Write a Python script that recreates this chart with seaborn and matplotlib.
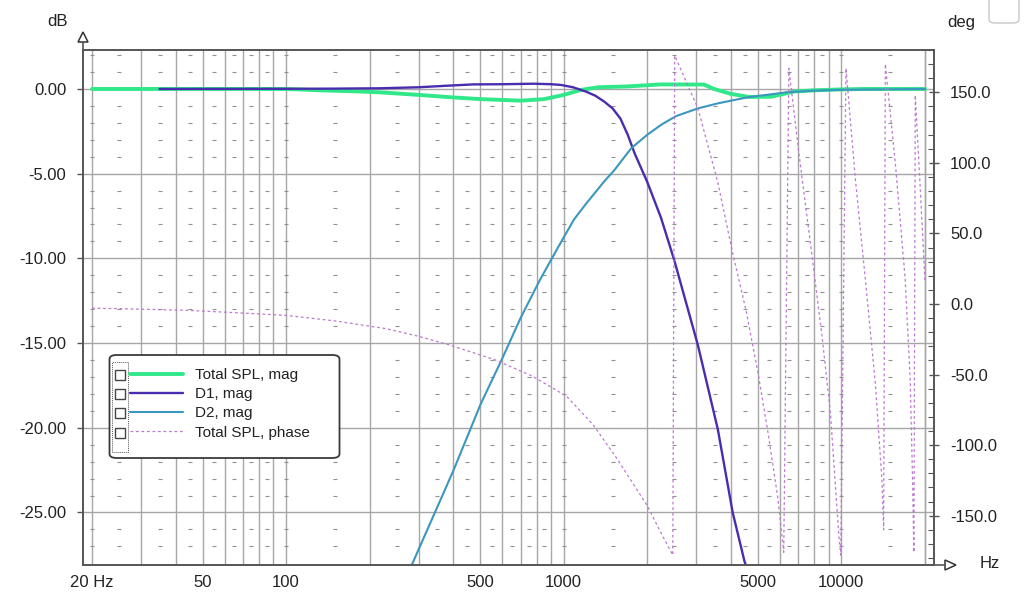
import numpy as np
import seaborn as sns
import matplotlib
matplotlib.use("Agg")
from matplotlib import pyplot as plt
from matplotlib import ticker
from matplotlib.lines import Line2D
from matplotlib.patches import Rectangle, FancyBboxPatch, Polygon

# ---- data ----
spl_f = [20, 100, 133, 185, 218, 300, 400, 502, 700, 850, 1000, 1150, 1330, 1700,
         2240, 3200, 3480, 4000, 4640, 5580, 6770, 8000, 9800, 12000, 20000]
spl_db = [0.0, 0.0, -0.08, -0.15, -0.2, -0.35, -0.5, -0.6, -0.69, -0.6, -0.35, -0.06, 0.1, 0.15,
          0.27, 0.26, 0.0, -0.29, -0.47, -0.46, -0.15, -0.08, -0.03, 0.0, 0.0]

d1_f = [35, 100, 150, 218, 300, 368, 473, 600, 780, 900, 975, 1080, 1200, 1300, 1400, 1500,
        1600, 1700, 1800, 2000, 2240, 2500, 3040, 3590, 4060, 4480, 4650]
d1_db = [0.0, 0.01, 0.02, 0.04, 0.1, 0.18, 0.27, 0.28, 0.31, 0.28, 0.24, 0.1, -0.15, -0.4,
         -0.75, -1.15, -1.75, -2.7, -3.8, -5.5, -7.6, -10.1, -15.1, -20.1, -25.0, -27.9, -28.6]

d2_f = [280, 287, 350, 401, 450, 502, 597, 700, 819, 950, 1089, 1200, 1300, 1400, 1520, 1750,
        2000, 2250, 2540, 3040, 3590, 4600, 6400, 8000, 10000, 15000, 20000]
d2_db = [-28.3, -27.9, -24.7, -22.5, -20.5, -18.6, -16.0, -13.5, -11.3, -9.4, -7.7, -6.8, -6.1,
         -5.45, -4.8, -3.5, -2.7, -2.1, -1.6, -1.15, -0.85, -0.49, -0.19, -0.1, -0.05, -0.02, 0.0]

ph_f = [20, 25, 44, 66, 100, 150, 229, 297, 381, 561, 770, 1024, 1275, 1550, 2000, 2250,
        2470, 2510, 3040, 3590, 4060, 4540, 5000, 5450, 5900, 6200, 6470, 7020, 7840, 8520,
        9130, 9800, 9950, 10390, 11230, 12200, 13250, 14000, 14200, 14400, 15640, 16980,
        17700, 18050, 18250, 18460, 19200, 20000]
ph_deg = [-3, -3.3, -4.5, -6.2, -8.1, -12, -17.5, -22.7, -28.6, -39.3, -51.1, -65.4, -85.5,
          -109.2, -143, -163, -178, 176, 139, 86, 36, -5, -48, -92, -137, -176, 167, 108, 34,
          -23, -77, -165, -178, 167, 88.6, 17.5, -56, -125, -160, 170, 100, 17.5, -54, -125,
          -176, 148, 85, 17]

names = ["Total SPL, mag", "D1, mag", "D2, mag", "Total SPL, phase"]
colors = ["#30e88a", "#4a2cae", "#3b97bd", "#bc78d0"]

x_ticks = [20, 50, 100, 500, 1000, 5000, 10000]
x_labels = ["20 Hz", "50", "100", "500", "1000", "5000", "10000"]

sns.set_style("white")
plt.rcParams['font.family'] = ['Liberation Sans', 'DejaVu Sans']
plt.rcParams['font.size'] = 12
text_c = "#222222"
grid_c = "#a6a6a6"
frame_c = "#555555"

W, H = 1024, 598
fig = plt.figure(figsize=(W / 100, H / 100), dpi=100)
ax = fig.add_axes([83 / W, 1 - 565 / H, 851 / W, 515 / H])
ax2 = ax.twinx()


def px(x, y):
    return x / W, 1 - y / H


# grid (vertical at every 1..9 x decade, horizontal every 5 dB)
all_dec = [m * 10 ** e for e in range(1, 5) for m in range(1, 10)]
grid_x = [v for v in all_dec if 20 <= v <= 20000] + [20000]
for v in grid_x:
    ax.axvline(v, color=grid_c, lw=1.0, zorder=0)
for v in range(-25, 1, 5):
    ax.axhline(v, color=grid_c, lw=1.0, zorder=0)

# minor dB grid drawn as short dashes between the vertical lines
dash_x = [20]
for e in range(1, 5):
    for m in range(1, 9):
        xv = (m + 0.5) * 10 ** e
        if 20 < xv < 20000:
            dash_x.append(xv)
    if 10 ** (e + 1) <= 10000:
        dash_x.append(10 ** (e + 1))
dash_y = [v for v in range(-27, 3) if v % 5 != 0]
gx, gy = np.meshgrid(dash_x, dash_y)
ax.plot(gx.ravel(), gy.ravel(), ls="none", marker="_", ms=3.5, mew=0.8,
        color="#909090", zorder=0)

# curves
sns.lineplot(x=spl_f, y=spl_db, ax=ax, color=colors[0], lw=2.8, legend=False, zorder=3)
sns.lineplot(x=d1_f, y=d1_db, ax=ax, color=colors[1], lw=1.7, legend=False, zorder=4)
sns.lineplot(x=d2_f, y=d2_db, ax=ax, color=colors[2], lw=1.5, legend=False, zorder=5)
sns.lineplot(x=ph_f, y=ph_deg, ax=ax2, color=colors[3], lw=0.9, legend=False, sort=False)
ax2.lines[-1].set_linestyle((0, (2.2, 2.2)))

ax.set_xscale("log")
ax.set_xlim(18.55, 21560)
ax.set_ylim(-28.1, 2.3)
ax2.set_ylim(-185, 180)

ax.xaxis.set_major_locator(ticker.FixedLocator(x_ticks))
ax.xaxis.set_major_formatter(ticker.FixedFormatter(x_labels))
ax.xaxis.set_minor_locator(ticker.NullLocator())
ax.yaxis.set_major_locator(ticker.MultipleLocator(5))
ax.yaxis.set_major_formatter(ticker.FormatStrFormatter("%.2f"))
ax2.yaxis.set_major_locator(ticker.MultipleLocator(50))
ax2.yaxis.set_minor_locator(ticker.MultipleLocator(10))
ax2.yaxis.set_major_formatter(ticker.FormatStrFormatter("%.1f"))

ax.tick_params(axis="x", length=0, pad=7, labelsize=12, labelcolor=text_c)
ax.tick_params(axis="y", length=4, width=1, color=frame_c, pad=8, labelsize=12,
               labelcolor=text_c)
ax2.tick_params(axis="y", which="major", direction="inout", length=7, width=1,
                color=frame_c, pad=8, labelsize=12, labelcolor=text_c)
ax2.tick_params(axis="y", which="minor", direction="in", length=4, width=0.8,
                color=frame_c)
ax.set_xlabel("")
ax.set_ylabel("")
ax2.set_ylabel("")

for a in (ax, ax2):
    for s in a.spines.values():
        s.set_color(frame_c)
        s.set_linewidth(1.2)

# axis arrows and unit labels
fig.add_artist(Line2D(*zip(px(83, 50), px(83, 42)), color=frame_c, lw=1.2))
fig.add_artist(Polygon([px(78, 42), px(88, 42), px(83, 32)], closed=True,
                       fc="white", ec="#333333", lw=1.1))
fig.add_artist(Line2D(*zip(px(934, 565), px(945, 565)), color=frame_c, lw=1.2))
fig.add_artist(Polygon([px(945, 560), px(945, 570), px(956, 565)], closed=True,
                       fc="white", ec="#333333", lw=1.1))
fig.text(*px(57, 22), "dB", ha="center", va="center", fontsize=12, color=text_c)
fig.text(*px(961, 22), "deg", ha="center", va="center", fontsize=12, color=text_c)
fig.text(*px(990, 564), "Hz", ha="center", va="center", fontsize=12, color=text_c)

# small rounded box in the top right corner
x0, y0 = px(989, 23)
fig.add_artist(FancyBboxPatch((x0, y0), 30 / W, 34 / H,
                              boxstyle="round,pad=0,rounding_size=0.006",
                              fc="white", ec="#c8c8c8", lw=1.0))

# legend (kept on the twin axes so it sits above every curve)
handles = [ax.lines[-3], ax.lines[-2], ax.lines[-1], ax2.lines[-1]]
leg = ax2.legend(handles, names, loc="upper left", frameon=False,
                 bbox_to_anchor=px(130, 368), bbox_transform=fig.transFigure,
                 borderpad=0, borderaxespad=0, handlelength=3.5, handletextpad=0.75,
                 labelspacing=0.34, fontsize=11)
for t in leg.get_texts():
    t.set_color(text_c)
leg.set_zorder(20)

fx, fy = px(109.5, 458)
ax2.add_patch(FancyBboxPatch((fx, fy), 230 / W, 103 / H,
                             boxstyle="round,pad=0,rounding_size=0.007",
                             transform=fig.transFigure, clip_on=False,
                             fc="white", ec="#3a3a3a", lw=1.3, zorder=15))
cx, cy = px(112, 452)
ax2.add_patch(Rectangle((cx, cy), 16 / W, 90 / H, fill=False, ec="#555555",
                        lw=0.7, ls=(0, (1, 1)), transform=fig.transFigure,
                        clip_on=False, zorder=16))

fig.canvas.draw()
inv = fig.transFigure.inverted()
for t in leg.get_texts():
    bb = t.get_window_extent()
    yc = inv.transform((0, (bb.y0 + bb.y1) / 2))[1]
    ax2.add_patch(Rectangle((114.5 / W, yc - 5 / H), 10 / W, 10 / H, fc="white",
                            ec="#444444", lw=1.0, transform=fig.transFigure,
                            clip_on=False, zorder=17))

fig.savefig("out.png", dpi=100)
